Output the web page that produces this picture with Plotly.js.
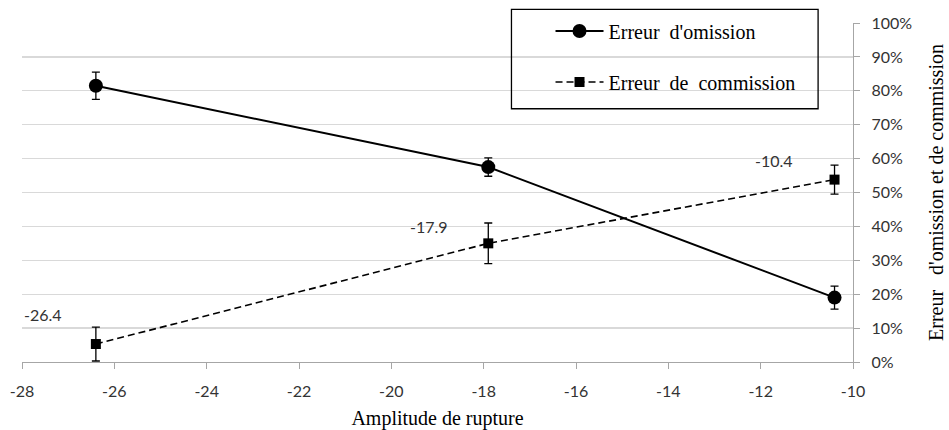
<!DOCTYPE html>
<html>
<head>
<meta charset="utf-8">
<script src="https://cdn.plot.ly/plotly-3.0.1.min.js"></script>
<style>html,body{margin:0;padding:0;background:#fff;}#chart{width:949px;height:430px;}</style>
</head>
<body>
<div id="chart"></div>
<script>
// Data
const amplitudes = [-26.4, -17.9, -10.4];
const amplitudeLabels = ['-26.4', '-17.9', '-10.4'];
const omission = [0.815, 0.575, 0.19];
const omissionErr = [0.04, 0.027, 0.034];
const commission = [0.053, 0.35, 0.538];
const commissionErr = [0.05, 0.06, 0.043];
const seriesNames = ['Erreur\u00a0 d\'omission', 'Erreur\u00a0 de\u00a0 commission'];
const xTickVals = [-28, -26, -24, -22, -20, -18, -16, -14, -12, -10];
const xTickText = ['-28', '-26', '-24', '-22', '-20', '-18', '-16', '-14', '-12', '-10'];

const tickFont = {family: 'Lato, "Open Sans", sans-serif', size: 16, color: '#333'};
const serif = '"Liberation Serif", "Times New Roman", serif';

const traces = [
  {
    x: amplitudes, y: omission, name: seriesNames[0], type: 'scatter', mode: 'lines+markers',
    line: {color: '#000', width: 2},
    marker: {symbol: 'circle', size: 14, color: '#000'},
    error_y: {type: 'data', array: omissionErr, visible: true, color: '#000', thickness: 1.3, width: 4},
    legendgroup: 'a'
  },
  {
    x: amplitudes, y: commission, name: seriesNames[1], type: 'scatter', mode: 'lines+markers',
    line: {color: '#000', width: 1.6, dash: '7px,4px'},
    marker: {symbol: 'square', size: 10, color: '#000'},
    error_y: {type: 'data', array: commissionErr, visible: true, color: '#000', thickness: 1.3, width: 4},
    legendgroup: 'b'
  }
];

const shifts = [[-53, 30], [-59, 17], [-61, 19]];
const annotations = amplitudes.map((a, i) => ({
  x: a, y: commission[i], xref: 'x', yref: 'y', text: amplitudeLabels[i], showarrow: false,
  xshift: shifts[i][0], yshift: shifts[i][1], font: tickFont
}));

const layout = {
  width: 949, height: 430,
  margin: {l: 22, r: 96, t: 22, b: 68},
  paper_bgcolor: '#fff', plot_bgcolor: '#fff',
  showlegend: true,
  legend: {
    x: 0.636, y: 1.031, xanchor: 'left', yanchor: 'top',
    bgcolor: 'rgba(0,0,0,0)', borderwidth: 0,
    font: {family: serif, size: 20, color: '#000'},
    tracegroupgap: 22, itemwidth: 48
  },
  xaxis: {
    range: [-28, -10], tickmode: 'array', tickvals: xTickVals, ticktext: xTickText,
    showgrid: false, zeroline: false,
    showline: true, linecolor: '#a6a6a6', linewidth: 1.3,
    ticks: 'outside', ticklen: 6, tickcolor: '#a6a6a6',
    tickfont: tickFont, ticklabelstandoff: 8,
    title: {text: 'Amplitude de rupture', font: {family: serif, size: 20, color: '#000'}, standoff: 16}
  },
  yaxis: {
    side: 'right', range: [0, 1], dtick: 0.1, tickformat: '.0%',
    showgrid: true, gridcolor: '#d9d9d9', gridwidth: 1.3, zeroline: false,
    showline: true, linecolor: '#a6a6a6', linewidth: 1.3,
    ticks: 'outside', ticklen: 6, tickcolor: '#a6a6a6',
    tickfont: tickFont, ticklabelstandoff: 8,
    title: {text: 'Erreur\u00a0\u00a0 d\'omission et de commission', font: {family: serif, size: 20, color: '#000'}, standoff: 17}
  },
  shapes: [{
    type: 'rect', xref: 'paper', yref: 'paper',
    x0: 0.589, x1: 0.958, y0: 0.747, y1: 1.04,
    line: {color: '#000', width: 1.3}, fillcolor: 'rgba(0,0,0,0)'
  }],
  annotations: annotations
};

Plotly.newPlot('chart', traces, layout, {displayModeBar: false, staticPlot: true});
</script>
</body>
</html>
